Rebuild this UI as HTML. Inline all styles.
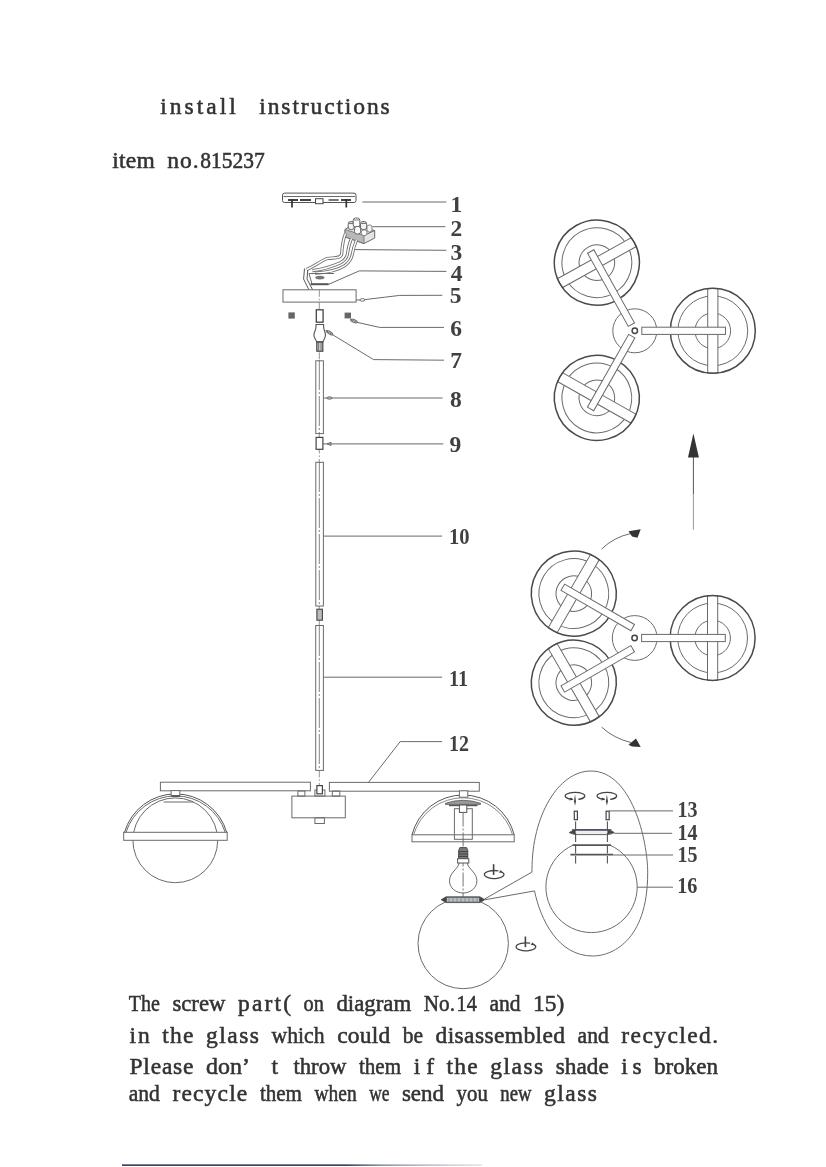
<!DOCTYPE html>
<html>
<head>
<meta charset="utf-8">
<title>install instructions</title>
<style>
html,body{margin:0;padding:0;background:#fff;}
body{width:826px;height:1167px;overflow:hidden;position:relative;font-family:"Liberation Serif",serif;}
svg{position:absolute;left:0;top:0;display:block;filter:blur(0.4px);}
.t{font-family:"Liberation Serif",serif;font-size:23.5px;fill:#333;stroke:#333;stroke-width:0.55px;}
.n{font-family:"Liberation Serif",serif;font-size:23.5px;font-weight:bold;fill:#404040;}
.l{fill:none;stroke:#6a6a6a;stroke-width:1;}
.k{fill:none;stroke:#4a4a4a;stroke-width:1.5;}
.w{fill:#fff;stroke:#6a6a6a;stroke-width:1;}
.d{fill:#444;stroke:none;}
.r{fill:none;stroke:#444;stroke-width:1.3;}
.c{fill:none;stroke:#7a7a7a;stroke-width:0.8;stroke-dasharray:7 2 1.5 2;}
</style>
</head>
<body>
<svg width="826" height="1167" viewBox="0 0 826 1167">
<g id="text">
<text class="t" y="114"><tspan x="160.3" textLength="75.4">install</tspan> <tspan x="259.3" textLength="130.4">instructions</tspan></text>
<text class="t" y="167.8"><tspan x="112.3" textLength="42.4">item</tspan> <tspan x="167.3" textLength="31.4">no.</tspan> <tspan x="200.3" textLength="64.4" lengthAdjust="spacingAndGlyphs">815237</tspan></text>
<text class="t" y="1011.2"><tspan x="128.7" textLength="31.2" lengthAdjust="spacingAndGlyphs">The</tspan> <tspan x="172.4" textLength="53.0" lengthAdjust="spacingAndGlyphs">screw</tspan> <tspan x="238.0" textLength="53.0">part(</tspan> <tspan x="303.6" textLength="20.3" lengthAdjust="spacingAndGlyphs">on</tspan> <tspan x="336.4" textLength="74.9" lengthAdjust="spacingAndGlyphs">diagram</tspan> <tspan x="423.8" textLength="31.2" lengthAdjust="spacingAndGlyphs">No.</tspan> <tspan x="456.6" textLength="20.3" lengthAdjust="spacingAndGlyphs">14</tspan> <tspan x="489.4" textLength="31.2" lengthAdjust="spacingAndGlyphs">and</tspan> <tspan x="533.1" textLength="31.2" lengthAdjust="spacingAndGlyphs">15)</tspan></text>
<text class="t" y="1042.9"><tspan x="129.5" textLength="20.3">in</tspan> <tspan x="162.3" textLength="31.2">the</tspan> <tspan x="206.0" textLength="53.0">glass</tspan> <tspan x="271.6" textLength="53.0" lengthAdjust="spacingAndGlyphs">which</tspan> <tspan x="337.2" textLength="53.0">could</tspan> <tspan x="402.8" textLength="20.3" lengthAdjust="spacingAndGlyphs">be</tspan> <tspan x="435.5" textLength="129.6">disassembled</tspan> <tspan x="577.6" textLength="31.2" lengthAdjust="spacingAndGlyphs">and</tspan> <tspan x="621.3" textLength="96.8">recycled.</tspan></text>
<text class="t" y="1073.5"><tspan x="129.5" textLength="64.0">Please</tspan> <tspan x="206.0" textLength="42.1" lengthAdjust="spacingAndGlyphs">don’</tspan> <tspan x="271.6" textLength="9.3">t</tspan> <tspan x="293.4" textLength="53.0" lengthAdjust="spacingAndGlyphs">throw</tspan> <tspan x="359.0" textLength="42.1" lengthAdjust="spacingAndGlyphs">them</tspan> <tspan x="413.7" textLength="20.3">if</tspan> <tspan x="446.5" textLength="31.2">the</tspan> <tspan x="490.2" textLength="53.0">glass</tspan> <tspan x="555.8" textLength="53.0" lengthAdjust="spacingAndGlyphs">shade</tspan> <tspan x="621.3" textLength="20.3">is</tspan> <tspan x="654.1" textLength="64.0" lengthAdjust="spacingAndGlyphs">broken</tspan></text>
<text class="t" y="1101.0"><tspan x="128.7" textLength="31.2" lengthAdjust="spacingAndGlyphs">and</tspan> <tspan x="172.4" textLength="74.9">recycle</tspan> <tspan x="259.9" textLength="42.1" lengthAdjust="spacingAndGlyphs">them</tspan> <tspan x="314.5" textLength="42.1" lengthAdjust="spacingAndGlyphs">when</tspan> <tspan x="369.2" textLength="20.3" lengthAdjust="spacingAndGlyphs">we</tspan> <tspan x="401.9" textLength="42.1" lengthAdjust="spacingAndGlyphs">send</tspan> <tspan x="456.6" textLength="31.2" lengthAdjust="spacingAndGlyphs">you</tspan> <tspan x="500.3" textLength="31.2" lengthAdjust="spacingAndGlyphs">new</tspan> <tspan x="544.0" textLength="53.0">glass</tspan></text>
</g>
<defs>
<g id="ag">
 <circle class="l" cx="78" cy="0" r="34.9"/>
 <circle class="l" cx="78" cy="0" r="17.8"/>
 <rect class="w" x="72.9" y="-42.4" width="10.2" height="84.8"/>
 <circle class="k" cx="78" cy="0" r="42.5"/>
</g>
<rect id="arm" class="w" x="7" y="-3.6" width="83.7" height="7.2"/>
<rect id="armB" class="w" x="10" y="-3.6" width="80.7" height="7.2"/>
<g id="rotU">
 <path class="r" d="M4.2,-3.6 A9.8,4 0 1 0 7.6,-2.5"/>
 <path class="d" d="M8.8,-1.6 L4.6,-1.9 L6.6,-4.6 Z"/>
 <path d="M-0.6,-10.3 L-0.6,0.4" fill="none" stroke="#444" stroke-width="1.6"/>
</g>
<g id="rotD">
 <path class="r" d="M-1.8,3.3 A9.8,3.6 0 1 1 4,3.2"/>
 <path class="d" d="M-0.8,3.4 L-5,4.2 L-3.6,1.2 Z"/>
 <path class="d" d="M0.7,-2 L1.7,5 L0.7,9.6 L-0.3,5 Z"/>
</g>
</defs>

<!-- top view A -->
<g id="topA">
 <circle class="l" cx="634.8" cy="330.8" r="22"/>
 <g transform="translate(634.8,330.8)"><use href="#ag"/><use href="#ag" transform="rotate(119.5) translate(-0.9,0)"/><use href="#ag" transform="rotate(240.9)"/>
 <use href="#arm"/><use href="#arm" transform="rotate(119.5) translate(-0.9,0)"/><use href="#arm" transform="rotate(240.9)"/></g>
 <circle cx="634.8" cy="330.8" r="2.7" fill="#fff" stroke="#444" stroke-width="1.5"/>
</g>

<!-- up arrow -->
<path d="M693.4,529.7 L693.4,494" class="l" style="stroke:#999"/>
<path d="M693.4,494 L693.4,457" class="l" style="stroke:#555"/>
<path d="M693.4,433.5 L698.9,457.4 L688,457.4 Z" fill="#333"/>

<!-- top view B -->
<g id="topB">
 <circle class="l" cx="634.7" cy="638" r="22.4"/>
 <g transform="translate(634.6,638)"><use href="#ag"/><use href="#arm"/></g>
 <g transform="translate(641.35,632.6) rotate(210)"><use href="#ag"/></g>
 <g transform="translate(641.35,643.7) rotate(150)"><use href="#ag"/></g>
 <g transform="translate(641.35,632.6) rotate(210)"><use href="#armB"/></g>
 <g transform="translate(641.35,643.7) rotate(150)"><use href="#armB"/></g>
 <circle cx="634.6" cy="638" r="2.7" fill="#fff" stroke="#444" stroke-width="1.5"/>
 <path class="l" d="M601.6,549.1 Q614,537 631,533.5"/>
 <path d="M628.5,531.2 L640.7,529.3 L637.5,537.7 L632,536.6 Z" fill="#333"/>
 <path class="l" d="M601.6,727.1 Q614,738.5 631,742.5"/>
 <path d="M628.5,744.8 L636,738.6 L640.7,747 L632,746.6 Z" fill="#333"/>
</g>
<!-- part 1: ceiling bracket -->
<g id="p1">
 <rect class="l" x="282.5" y="193.1" width="73.5" height="9.4" rx="2" style="stroke:#555"/>
 <path class="l" d="M283.5,196.5 H355" />
 <path d="M288,200 H298 M300,200 H311 M341,200 H351" stroke="#444" stroke-width="1.8" fill="none"/>
 <path d="M328.6,200 H338.6" stroke="#667" stroke-width="1.8" fill="none"/>
 <rect class="w" x="315.5" y="198.7" width="7.5" height="5" style="stroke:#444"/>
 <path d="M292,199 V207.4 M346.3,199 V207.4" stroke="#333" stroke-width="1.7" fill="none"/>
 <path class="l" d="M362.3,202 H446.4"/>
</g>

<!-- part 2: terminal block -->
<g id="p2">
 <path d="M345,229.5 L351,225.5 L374.7,230.5 L374.7,238 L364,243.6 L345,236.8 Z" fill="#e4e4e4" stroke="#6a6a6a" stroke-width="1"/>
 <path d="M345,229.5 L364,235.5 V243.6 L345,236.8 Z" fill="#b8b8b8" stroke="#6a6a6a" stroke-width="0.8"/>
 <path class="l" d="M364,235.5 L374.7,230.5"/>
 <rect x="348.2" y="221.5" width="6" height="8" rx="2.4" fill="#f4f4f4" stroke="#666" stroke-width="1"/>
 <rect x="353.2" y="218" width="6.6" height="9" rx="2.4" fill="#fff" stroke="#666" stroke-width="1"/>
 <rect x="360.5" y="221.5" width="6.2" height="8" rx="2.4" fill="#f4f4f4" stroke="#666" stroke-width="1"/>
 <rect x="354.6" y="226.5" width="6" height="7.5" rx="2.4" fill="#fff" stroke="#666" stroke-width="1"/>
 <rect x="361.3" y="230" width="5.6" height="5.5" rx="2.2" fill="#fff" stroke="#777" stroke-width="0.9"/>
 <rect x="367" y="225" width="5" height="7" rx="2.2" fill="#f4f4f4" stroke="#777" stroke-width="0.9"/>
 <path d="M349,223.3 h4.4 M354,220 h5 M361.3,223.3 h4.6" stroke="#777" stroke-width="1.2" fill="none"/>
 <path class="l" d="M372.3,226.7 H445.4"/>
</g>

<!-- part 3: wires -->
<g id="p3">
 <path d="M345.5,233.5 C343,240 342,248 341.7,254 C341,259 333,257.5 327.4,258.5 C322,260 315,266 306.5,269.5" fill="none" stroke="#707070" stroke-width="3.2"/>
 <path d="M345.5,233.5 C343,240 342,248 341.7,254 C341,259 333,257.5 327.4,258.5 C322,260 315,266 306.5,269.5" fill="none" stroke="#fff" stroke-width="1.4"/>
 <path d="M351.5,238.5 C349,244 348,250 347.4,254.4 C346,260 342,262 339.9,263 C332,266.5 322,269.5 312.4,270.6" fill="none" stroke="#707070" stroke-width="3.2"/>
 <path d="M351.5,238.5 C349,244 348,250 347.4,254.4 C346,260 342,262 339.9,263 C332,266.5 322,269.5 312.4,270.6" fill="none" stroke="#fff" stroke-width="1.4"/>
 <path d="M356.5,240 C354,246 353,250 352.3,254.4 C351,261 347,264 344.9,265.6 C338,270 328,272.5 314.9,273.1" fill="none" stroke="#707070" stroke-width="3.2"/>
 <path d="M356.5,240 C354,246 353,250 352.3,254.4 C351,261 347,264 344.9,265.6 C338,270 328,272.5 314.9,273.1" fill="none" stroke="#fff" stroke-width="1.4"/>
 <path class="l" d="M354.8,249.6 L446.4,250.3"/>
</g>

<!-- part 4: bracket -->
<g id="p4">
 <path class="l" d="M304.5,268.5 L303.6,279 L308.8,289.6 M307.8,270 L307,279 L312.5,289.6" style="stroke:#555"/>
 <path class="l" d="M309,273.5 L334,273.5 M309,273.5 L312,284"/>
 <ellipse cx="319.9" cy="277.6" rx="4.6" ry="1.9" fill="#777"/>
 <path d="M310.6,284.2 H328.7" stroke="#555" stroke-width="2" fill="none"/>
 <path class="l" d="M328.7,284.3 L359.2,270.9 L446.4,271.4"/>
</g>

<!-- part 5: canopy -->
<g id="p5">
 <rect class="l" x="283" y="289.8" width="73.1" height="12.3"/>
 <path class="l" d="M356.1,300 H360"/>
 <ellipse class="l" cx="362.4" cy="299.9" rx="2.5" ry="1.3"/>
 <path class="l" d="M364.9,299.6 L399.7,295.4 L442.3,295.3"/>
</g>

<!-- center axis -->
<path class="c" d="M319.3,289.8 V360 M319.3,434 V462 M319.3,606 V626 M319.3,770.4 V786"/>
<path d="M319.3,360 V434 M319.3,462 V606 M319.3,626 V770" fill="none" stroke="#777" stroke-width="0.9" stroke-dasharray="30 2 2 2"/>

<!-- part 6: screws -->
<g id="p6">
 <rect x="288.4" y="312.4" width="6.4" height="6.2" fill="#666"/>
 <rect x="344.6" y="312.6" width="6.4" height="5.8" fill="#666"/>
 <ellipse cx="354" cy="321" rx="3.6" ry="1.4" transform="rotate(23 354 321)" class="l"/>
 <path class="l" d="M350.3,319.4 L357.3,322.4 L379.7,327.4 L444,327.4"/>
</g>

<!-- part 7: coupler -->
<g id="p7">
 <rect class="w" x="316.3" y="309.8" width="6.8" height="12.4" style="stroke:#444;stroke-width:1.3"/>
 <path class="w" d="M316,324.5 H323.6 V327 C323.6,330 325.5,332 325.5,335 C325.5,338.5 323.4,340 323.1,341.7 H316.6 C316.3,340 313.9,338.5 313.9,335 C313.9,332 316,330 316,327 Z" style="stroke:#555;stroke-width:1.1"/>
 <rect x="316.8" y="342.2" width="6" height="9" fill="#ccc" stroke="#444" stroke-width="1.2"/>
 <path d="M318.6,342.5 V351 M321,342.5 V351" stroke="#666" stroke-width="0.8" fill="none"/>
 <ellipse cx="329.6" cy="332.8" rx="3.6" ry="1.2" transform="rotate(31 329.6 332.8)" class="l"/>
 <path class="l" d="M325.5,330.4 L373.5,359.6 L444,360.2"/>
</g>

<!-- rods -->
<g id="rods">
 <rect class="l" x="315.8" y="360.8" width="7.6" height="72.8"/>
 <path class="l" d="M323.6,398 H442.6"/>
 <ellipse class="l" cx="329.5" cy="398" rx="2.6" ry="1.2"/>
 <rect class="w" x="316.1" y="437.4" width="6.8" height="11.9" style="stroke:#444;stroke-width:1.2"/>
 <path class="l" d="M323,443.9 H443.3"/>
 <path class="l" d="M327,443.9 l4,-1.6 v3.2 z"/>
 <rect class="l" x="315.8" y="462.3" width="7.6" height="143.7"/>
 <path class="l" d="M323.6,536.1 H442.1"/>
 <rect x="316.9" y="609.2" width="5.5" height="11" fill="#bbb" stroke="#444" stroke-width="1.1"/>
 <rect class="l" x="315.7" y="625.5" width="7.7" height="144.9"/>
 <path class="l" d="M323.6,677.2 H442.1"/>
 <path class="l" d="M368.5,782.4 L400.2,741.6 L442.1,741.6"/>
</g>
<!-- arms and center box -->
<g id="arms">
 <rect class="l" x="160.4" y="782.2" width="150" height="8.6"/>
 <rect class="l" x="329.4" y="782.4" width="149.9" height="8.8"/>
 <rect class="l" x="291.9" y="796.1" width="53.4" height="21.7"/>
 <rect class="l" x="297.9" y="791" width="7" height="5.1"/>
 <rect class="l" x="332.3" y="791" width="7.5" height="5.1"/>
 <rect class="l" x="314.9" y="790" width="10" height="6"/>
 <rect class="w" x="316.9" y="785.6" width="5.5" height="8.2" style="stroke:#444;stroke-width:1.2"/>
 <rect class="l" x="314.9" y="817.8" width="9.5" height="5.7"/>
</g>

<!-- left shade -->
<g id="lshade">
 <circle class="l" cx="175.3" cy="840.3" r="42.4"/>
 <rect class="w" x="123.7" y="832.3" width="103.5" height="8"/>
 <path class="l" d="M124.5,832.3 A53.2,53.2 0 0 1 226.7,832.3" style="stroke:#555"/>
 <path class="l" d="M126,832.3 A52,52 0 0 1 225.2,832.3"/>
 <rect class="w" x="171.1" y="790.6" width="8.7" height="5"/>
 <path d="M171.5,796.2 H180 " stroke="#555" stroke-width="1.6" fill="none"/>
 <path class="l" d="M163.6,802 H193.5"/>
</g>

<!-- right shade -->
<g id="rshade">
 <rect class="l" x="412" y="834.8" width="102.2" height="7"/>
 <path class="l" d="M412,834.8 A52.7,52.7 0 0 1 514.2,834.8" style="stroke:#555"/>
 <path class="l" d="M413.6,834.8 A51.6,51.6 0 0 1 512.6,834.8" style="stroke:#888"/>
 <rect class="w" x="459.4" y="790.8" width="8.4" height="6.4"/>
 <path d="M445.5,803.2 Q463,797.4 480.5,803.2 L480.5,804.4 L445.5,804.4 Z" fill="#999" stroke="#555" stroke-width="0.8"/>
 <path d="M449,805.6 H477.5" stroke="#555" stroke-width="1.2" fill="none"/>
 <rect class="l" x="454.4" y="808.7" width="17.9" height="30.6"/>
 <rect class="w" x="459.4" y="805" width="7.4" height="7.4" style="stroke:#555"/>
 <path d="M463.1,812.5 V897" fill="none" stroke="#666" stroke-width="0.9" stroke-dasharray="14 2 2 2"/>
</g>

<!-- bulb -->
<g id="bulb">
 <path class="l" d="M459.2,863 C458.2,869 449.5,872.5 449.5,880.8 C449.5,888 456,893 463.2,893 C470.4,893 476.9,888 476.9,880.8 C476.9,872.5 468.2,869 467.2,863" />
 <path d="M459.8,847.6 H466.6 L467.8,850.6 V858.7 H458.6 V850.6 Z" fill="#7a7a7a" stroke="#444" stroke-width="0.9"/>
 <path d="M458.6,851.6 H467.8 M458.6,854 H467.8 M458.6,856.4 H467.8" stroke="#333" stroke-width="0.8" fill="none"/>
 <rect class="w" x="457.6" y="858.7" width="11.2" height="4.3" style="stroke:#555"/>
 <use href="#rotU" transform="translate(494.2,874.5)"/>
</g>

<!-- big globe with ring -->
<g id="bglobe">
 <circle class="l" cx="463.2" cy="943.5" r="45.2"/>
 <path d="M441.1,899.7 L446,896.8 H480 L484.8,899.7 L480,902.6 H446 Z" fill="#b9bdc8" stroke="#555" stroke-width="0.8"/>
 <path d="M441.1,899.7 L446.8,896.6 L446.8,902.8 Z M484.8,899.7 L479.2,896.6 L479.2,902.8 Z" fill="#444"/>
 <path d="M447,897.2 H479 M447,902.2 H479" stroke="#555" stroke-width="1.1" fill="none"/>
 <path d="M449,896.8 V902.6 M453,896.8 V902.6 M457,896.8 V902.6 M461,896.8 V902.6 M465,896.8 V902.6 M469,896.8 V902.6 M473,896.8 V902.6 M477,896.8 V902.6" stroke="#777" stroke-width="0.7" fill="none"/>
 <use href="#rotU" transform="translate(526,946.8)"/>
 <path class="l" d="M484.3,899.2 L531.9,872.1 M484.8,899.8 L534.5,890.9"/>
</g>

<!-- detail ellipse -->
<g id="detail">
 <path class="l" d="M531.9,872.1 L532.0,869.5 C532.0,816.3 558.0,771.0 591.0,771.0 C631.8,771.0 647.7,840.3 647.7,872.9 C647.7,942.7 610.3,956.0 592.7,956.0 C557.8,956.0 540.5,919.4 534.5,890.9"/>
 <path class="l" d="M610.1,845.2 A45.65,45.65 0 1 1 573.0,845.2"/>
 <path d="M572.6,845.2 H611" stroke="#555" stroke-width="1.8" fill="none"/>
 <path d="M570.4,854.7 H613.2" stroke="#555" stroke-width="1.8" fill="none"/>
 <path class="l" d="M613.2,855 H673"/>
 <path d="M569.2,832.6 Q573,829.6 577,829.6 H606.5 Q611,829.6 614.3,832.6 Q611,834.6 606.5,834.6 H577 Q573,834.6 569.2,832.6 Z" fill="#eee" stroke="#555" stroke-width="0.9"/>
 <path d="M572,830 H611.5" stroke="#4a4a5a" stroke-width="1.7" fill="none"/>
 <path d="M569.2,832.6 L575.6,829.6 V834.6 Z M614.3,832.6 L607.4,829.6 V834.6 Z" fill="#444"/>
 <path class="l" d="M614.3,833.3 H672.2"/>
 <rect x="574.3" y="811.2" width="3.1" height="8.5" fill="#fff" stroke="#444" stroke-width="1.2"/>
 <rect x="606.1" y="811.2" width="3.1" height="8.5" fill="#fff" stroke="#444" stroke-width="1.2"/>
 <path class="l" d="M609.3,810.9 H673"/>
 <path d="M575.6,821.5 V863.5 M607.4,821.5 V863.5" fill="none" stroke="#555" stroke-width="1.1" stroke-dasharray="9 2.5"/>
 <use href="#rotD" transform="translate(574.3,796.2)"/>
 <use href="#rotD" transform="translate(606.2,796.2)"/>
 <path class="l" d="M637.2,887.2 H673"/>
</g>
<g id="nums">
<text class="n" x="450.6" y="212.0">1</text>
<text class="n" x="450.6" y="236.1">2</text>
<text class="n" x="450.6" y="259.6">3</text>
<text class="n" x="450.8" y="281">4</text>
<text class="n" x="449.8" y="302.7">5</text>
<text class="n" x="450.2" y="335.7">6</text>
<text class="n" x="450.2" y="368.2">7</text>
<text class="n" x="449.9" y="406.7">8</text>
<text class="n" x="449.5" y="452.2">9</text>
<text class="n" x="449" y="544.4" textLength="20.6" lengthAdjust="spacingAndGlyphs">10</text>
<text class="n" x="449" y="685.6" textLength="19" lengthAdjust="spacingAndGlyphs">11</text>
<text class="n" x="449" y="750.7" textLength="20" lengthAdjust="spacingAndGlyphs">12</text>
<text class="n" x="677.4" y="817.3" textLength="20" lengthAdjust="spacingAndGlyphs">13</text>
<text class="n" x="677.4" y="840" textLength="20" lengthAdjust="spacingAndGlyphs">14</text>
<text class="n" x="677.4" y="862.3" textLength="20" lengthAdjust="spacingAndGlyphs">15</text>
<text class="n" x="677.2" y="893.3" textLength="20.2" lengthAdjust="spacingAndGlyphs">16</text>
</g>
<!-- bottom scan edge -->
<defs><linearGradient id="edge" x1="0" x2="1" y1="0" y2="0"><stop offset="0" stop-color="#1d2f5a"/><stop offset="0.62" stop-color="#1d2f5a"/><stop offset="0.72" stop-color="#7f8aa5"/><stop offset="1" stop-color="#c9cdd6" stop-opacity="0.6"/></linearGradient></defs>
<rect x="122" y="1164.4" width="360" height="1.5" fill="url(#edge)"/>
</svg>
</body>
</html>
